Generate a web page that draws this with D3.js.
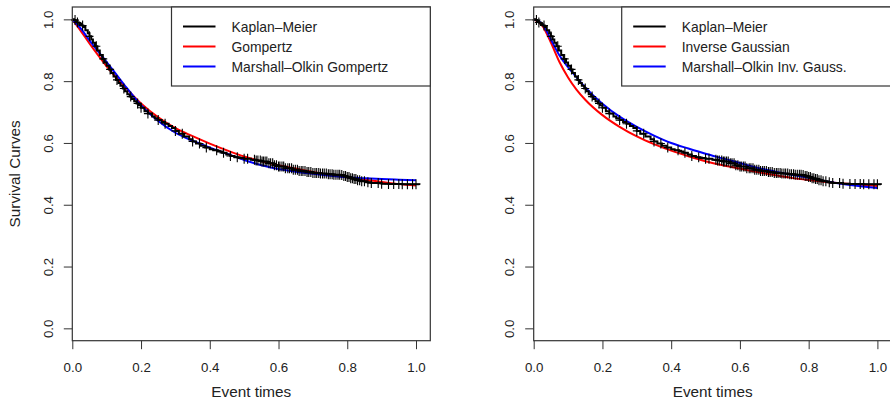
<!DOCTYPE html>
<html>
<head>
<meta charset="utf-8">
<script src="https://cdn.jsdelivr.net/npm/d3@7"></script>
<style>
  body { margin: 0; background: #fff; }
  svg { display: block; font-family: "Liberation Sans", Arial, sans-serif; }
  .axis text { font-size: 13.3px; fill: #222; }
  .axis line { stroke: #333; }
  .legend text { font-size: 13.9px; fill: #222; }
  .title { font-size: 15.3px; fill: #222; }
</style>
</head>
<body>
<div id="chart"></div>
<script>
// Kaplan-Meier estimate (step points: time, survival), shared by both panels
var kmTimes = [0, 0.005, 0.01, 0.015, 0.02, 0.026, 0.032, 0.038, 0.045, 0.05, 0.055, 0.06, 0.066, 0.073, 0.08,
  0.087, 0.094, 0.1, 0.107, 0.113, 0.12, 0.127, 0.134, 0.14, 0.147, 0.153, 0.16, 0.167, 0.173, 0.18, 0.187,
  0.193, 0.2, 0.21, 0.22, 0.232, 0.24, 0.25, 0.26, 0.27, 0.28, 0.29, 0.3, 0.31, 0.325, 0.34, 0.35, 0.36,
  0.373, 0.387, 0.4, 0.41, 0.423, 0.436, 0.448, 0.46, 0.472, 0.484, 0.5, 0.52, 0.535, 0.55, 0.568, 0.585,
  0.6, 0.62, 0.64, 0.66, 0.68, 0.7, 0.72, 0.74, 0.76, 0.78, 0.79, 0.8, 0.81, 0.82, 0.83, 0.84, 0.855, 0.87,
  0.9, 0.92, 0.96, 1.01];
var kmSurv = [1.0, 0.998, 0.995, 0.99, 0.985, 0.98, 0.975, 0.965, 0.955, 0.945, 0.935, 0.924, 0.913, 0.899,
  0.885, 0.872, 0.86, 0.85, 0.838, 0.826, 0.815, 0.804, 0.794, 0.785, 0.776, 0.767, 0.758, 0.75, 0.742,
  0.735, 0.728, 0.722, 0.714, 0.703, 0.695, 0.686, 0.68, 0.674, 0.668, 0.662, 0.655, 0.648, 0.639, 0.63,
  0.621, 0.612, 0.605, 0.598, 0.591, 0.585, 0.58, 0.576, 0.572, 0.568, 0.563, 0.558, 0.554, 0.551, 0.549,
  0.546, 0.543, 0.54, 0.534, 0.528, 0.524, 0.518, 0.513, 0.509, 0.506, 0.503, 0.501, 0.499, 0.497, 0.496,
  0.493, 0.49, 0.486, 0.483, 0.479, 0.476, 0.473, 0.47, 0.468, 0.467, 0.466, 0.465];

// censoring marks
var censorTimes = [0.008, 0.015, 0.03, 0.05, 0.07, 0.09, 0.11, 0.13, 0.15, 0.17, 0.19, 0.2, 0.22, 0.25, 0.27,
  0.3, 0.32, 0.35, 0.37, 0.39, 0.42, 0.44, 0.46, 0.48, 0.5, 0.51, 0.53, 0.535, 0.54, 0.547, 0.552, 0.556,
  0.561, 0.566, 0.572, 0.577, 0.583, 0.588, 0.594, 0.6, 0.604, 0.61, 0.615, 0.62, 0.627, 0.632, 0.638, 0.643,
  0.649, 0.655, 0.66, 0.666, 0.671, 0.677, 0.683, 0.688, 0.694, 0.7, 0.706, 0.711, 0.717, 0.722, 0.728,
  0.733, 0.739, 0.745, 0.75, 0.756, 0.761, 0.767, 0.773, 0.778, 0.784, 0.79, 0.795, 0.8, 0.805, 0.81, 0.815,
  0.82, 0.825, 0.83, 0.836, 0.842, 0.85, 0.86, 0.87, 0.89, 0.9, 0.92, 0.935, 0.95, 0.96, 0.975, 0.99, 1.0];

// fitted model curves
var fitTimes = [0, 0.025, 0.05, 0.075, 0.1, 0.125, 0.15, 0.2, 0.25, 0.3, 0.35, 0.4, 0.45, 0.5, 0.55, 0.6, 0.65,
  0.7, 0.75, 0.8, 0.85, 0.9, 0.95, 1.0];
var gompertz = [1.0, 0.962, 0.922, 0.884, 0.848, 0.815, 0.785, 0.728, 0.683, 0.648, 0.622, 0.598, 0.576,
  0.556, 0.541, 0.528, 0.517, 0.506, 0.497, 0.489, 0.481, 0.474, 0.467, 0.462];
var moGompertz = [1.0, 0.97, 0.932, 0.896, 0.862, 0.826, 0.79, 0.722, 0.671, 0.633, 0.607, 0.585, 0.565,
  0.545, 0.528, 0.516, 0.507, 0.5, 0.494, 0.489, 0.486, 0.483, 0.481, 0.479];
var invGauss = [1.0, 0.98, 0.925, 0.862, 0.812, 0.772, 0.74, 0.69, 0.652, 0.621, 0.596, 0.575, 0.557, 0.541,
  0.528, 0.517, 0.506, 0.496, 0.487, 0.48, 0.474, 0.469, 0.465, 0.461];
var moInvGauss = [1.0, 0.985, 0.935, 0.883, 0.845, 0.812, 0.78, 0.727, 0.685, 0.652, 0.624, 0.6, 0.582, 0.565,
  0.55, 0.535, 0.52, 0.508, 0.497, 0.487, 0.476, 0.467, 0.46, 0.454];

var xTicks = [0, 0.2, 0.4, 0.6, 0.8, 1.0];
var yTicks = [0, 0.2, 0.4, 0.6, 0.8, 1.0];

var panels = [
  { left: 72.3, labels: ["Kaplan\u2013Meier", "Gompertz", "Marshall\u2013Olkin Gompertz"],
    fits: [gompertz, moGompertz], legendX: 171.5, yLabel: true },
  { left: 533.7, labels: ["Kaplan\u2013Meier", "Inverse Gaussian", "Marshall\u2013Olkin Inv. Gauss."],
    fits: [invGauss, moInvGauss], legendX: 621.7, yLabel: false },
];

var colors = ["#000000", "#ff0000", "#0000ff"];

var width = 890;
var height = 403;
var plotWidth = 358;
var plotTop = 7;
var plotBottom = 340.7;

var svg = d3.select("#chart").append("svg").attr("width", width).attr("height", height);

var kmData = kmTimes.map((t, i) => ({ t: t, s: kmSurv[i] }));
var kmStep = function (t) {
  var idx = d3.bisectRight(kmTimes, t) - 1;
  return kmSurv[Math.max(0, idx)];
};

panels.forEach(function (p) {
  var xScale = d3.scaleLinear().domain([0, 1.0416]).range([p.left, p.left + plotWidth]);
  var yScale = d3.scaleLinear().domain([-0.04, 1.04]).range([plotBottom, plotTop]);

  var g = svg.append("g");

  // axes
  var xAxis = d3.axisBottom(xScale).tickValues(xTicks).tickSize(8.5).tickFormat(d3.format(".1f"));
  var xg = g.append("g").attr("class", "axis").attr("transform", `translate(0,${plotBottom})`).call(xAxis);
  xg.select(".domain").remove();
  xg.selectAll("text").attr("y", 31.5).attr("dy", 0);

  var yAxis = d3.axisLeft(yScale).tickValues(yTicks).tickSize(8.5).tickFormat(d3.format(".1f"));
  var yg = g.append("g").attr("class", "axis").attr("transform", `translate(${p.left},0)`).call(yAxis);
  yg.select(".domain").remove();
  yg.selectAll("text")
    .attr("x", 0)
    .attr("dy", 0)
    .attr("text-anchor", "middle")
    .attr("transform", "translate(-19.5,0) rotate(-90)");

  // axis titles
  g.append("text")
    .attr("class", "title")
    .attr("x", (xScale.range()[0] + xScale.range()[1]) / 2)
    .attr("y", 396.5)
    .attr("text-anchor", "middle")
    .text("Event times");

  if (p.yLabel) {
    g.append("text")
      .attr("class", "title")
      .attr("transform", `translate(20,${(plotTop + plotBottom) / 2}) rotate(-90)`)
      .attr("text-anchor", "middle")
      .text("Survival Curves");
  }

  // fitted curves
  var line = d3
    .line()
    .x((d) => xScale(d.t))
    .y((d) => yScale(d.s))
    .curve(d3.curveMonotoneX);

  p.fits.forEach(function (fit, k) {
    g.append("path")
      .datum(fitTimes.map((t, i) => ({ t: t, s: fit[i] })))
      .attr("fill", "none")
      .attr("stroke", colors[k + 1])
      .attr("stroke-width", 2)
      .attr("d", line);
  });

  // Kaplan-Meier step curve
  var stepLine = d3
    .line()
    .x((d) => xScale(d.t))
    .y((d) => yScale(d.s))
    .curve(d3.curveStepAfter);

  g.append("path")
    .datum(kmData)
    .attr("fill", "none")
    .attr("stroke", colors[0])
    .attr("stroke-width", 2)
    .attr("d", stepLine);

  // censor marks (+)
  g.selectAll(".censor")
    .data(censorTimes)
    .enter()
    .append("path")
    .attr("class", "censor")
    .attr("transform", (d) => `translate(${xScale(d)},${yScale(kmStep(d))})`)
    .attr("d", "M-4,0H4M0,-5V5")
    .attr("stroke", "#000")
    .attr("stroke-width", 1.1);

  // plot box
  g.append("rect")
    .attr("x", xScale.range()[0])
    .attr("y", plotTop)
    .attr("width", plotWidth)
    .attr("height", plotBottom - plotTop)
    .attr("fill", "none")
    .attr("stroke", "#333")
    .attr("stroke-width", 1.2);

  // legend
  var legend = g.append("g").attr("class", "legend");
  legend
    .append("rect")
    .attr("x", p.legendX)
    .attr("y", plotTop)
    .attr("width", p.left + plotWidth - p.legendX)
    .attr("height", 86 - plotTop)
    .attr("fill", "#fff")
    .attr("stroke", "#333")
    .attr("stroke-width", 1.2);

  p.labels.forEach(function (label, i) {
    var y = 26.5 + i * 20;
    legend
      .append("line")
      .attr("x1", p.legendX + 11.5)
      .attr("x2", p.legendX + 44)
      .attr("y1", y)
      .attr("y2", y)
      .attr("stroke", colors[i])
      .attr("stroke-width", 2);
    legend
      .append("text")
      .attr("x", p.legendX + 60)
      .attr("y", y + 5)
      .text(label);
  });
});
</script>
</body>
</html>
